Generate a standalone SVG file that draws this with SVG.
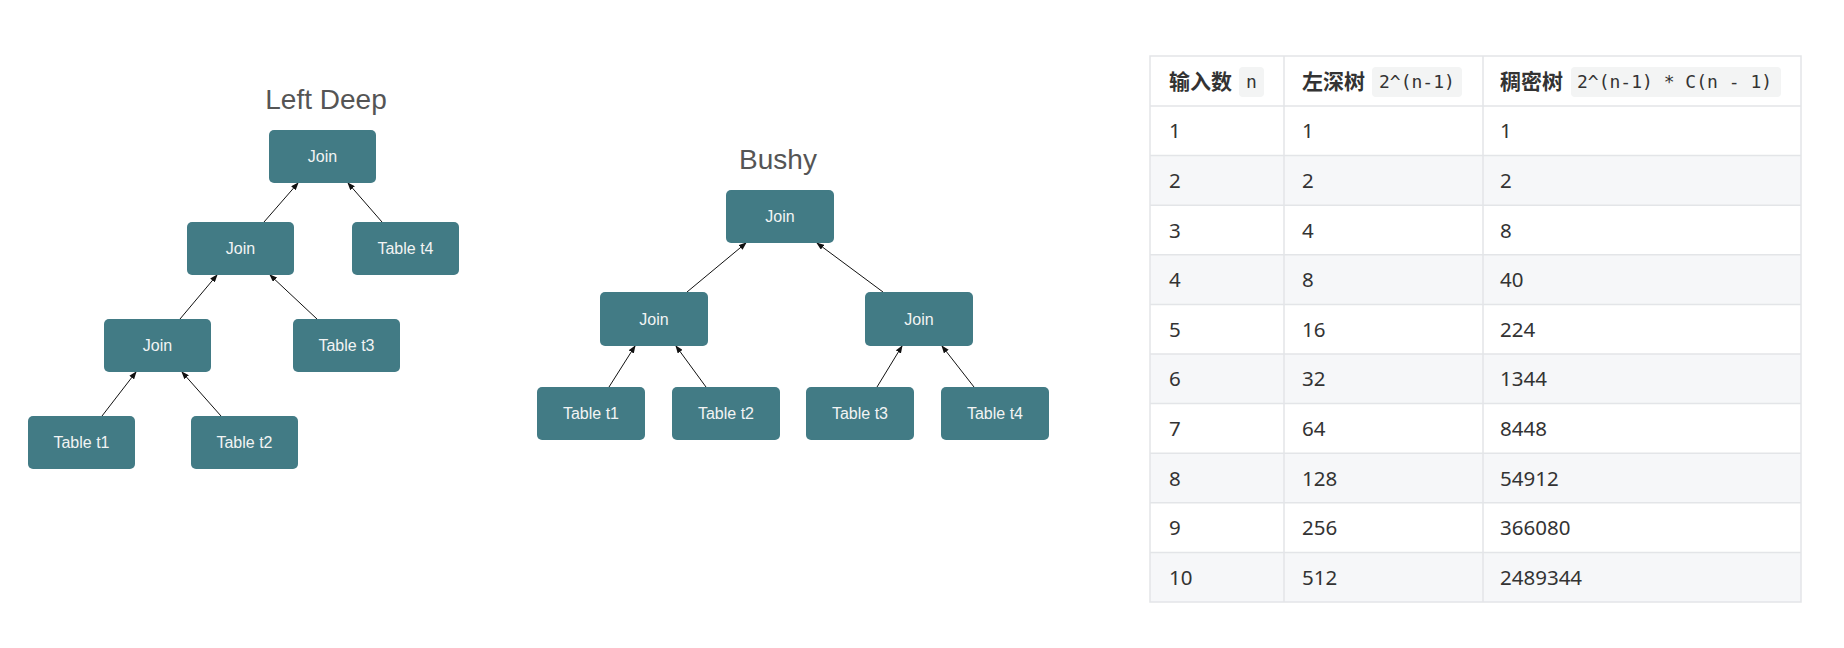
<svg xmlns="http://www.w3.org/2000/svg" width="1844" height="648" viewBox="0 0 1844 648">
<style>
.box{fill:#427b85;}
.bt{font-family:"Liberation Sans",Arial,sans-serif;font-size:16px;fill:#f2f4f4;text-anchor:middle;}
.title{font-family:"Liberation Sans",Arial,sans-serif;font-size:28px;fill:#555555;text-anchor:middle;}
.edge{stroke:#111;stroke-width:1;fill:none;marker-end:url(#ah);}
.cell{font-family:"Noto Sans","Noto Sans CJK SC",sans-serif;font-size:20.5px;fill:#333333;}
.hd{font-family:"Noto Sans","Noto Sans CJK SC",sans-serif;font-size:21px;font-weight:bold;fill:#333333;}
.code{font-family:"DejaVu Sans Mono","Liberation Mono",monospace;font-size:18px;fill:#333333;}
.chip{fill:#f3f4f4;}
.grid{stroke:#e3e5e8;stroke-width:1.5;fill:none;}
.alt{fill:#f6f7f9;}
</style>
<defs>
<marker id="ah" markerWidth="8" markerHeight="6" refX="7" refY="3" orient="auto" markerUnits="userSpaceOnUse">
<path d="M0,0 L8,3 L0,6 Z" fill="#111"/>
</marker>
</defs>
<rect width="1844" height="648" fill="#ffffff"/>

<text class="title" x="326" y="109">Left Deep</text>
<text class="title" x="778" y="169">Bushy</text>

<g id="connectors">
<line class="edge" x1="264" y1="222" x2="298" y2="183"/>
<line class="edge" x1="382" y1="222" x2="348" y2="183"/>
<line class="edge" x1="180" y1="319" x2="217" y2="275"/>
<line class="edge" x1="317" y1="319" x2="270" y2="275"/>
<line class="edge" x1="102" y1="416" x2="136" y2="372"/>
<line class="edge" x1="221" y1="416" x2="182" y2="372"/>
<line class="edge" x1="687" y1="292" x2="746" y2="243"/>
<line class="edge" x1="883" y1="292" x2="817" y2="243"/>
<line class="edge" x1="609" y1="387" x2="635" y2="346"/>
<line class="edge" x1="706" y1="387" x2="676" y2="346"/>
<line class="edge" x1="877" y1="387" x2="902" y2="346"/>
<line class="edge" x1="974" y1="387" x2="942" y2="346"/>
</g>

<g id="ld-join1"><rect class="box" x="269" y="130" width="107" height="53" rx="5"/><text class="bt" x="322.5" y="162">Join</text></g>
<g id="ld-join2"><rect class="box" x="187" y="222" width="107" height="53" rx="5"/><text class="bt" x="240.5" y="254">Join</text></g>
<g id="ld-t4"><rect class="box" x="352" y="222" width="107" height="53" rx="5"/><text class="bt" x="405.5" y="254">Table t4</text></g>
<g id="ld-join3"><rect class="box" x="104" y="319" width="107" height="53" rx="5"/><text class="bt" x="157.5" y="351">Join</text></g>
<g id="ld-t3"><rect class="box" x="293" y="319" width="107" height="53" rx="5"/><text class="bt" x="346.5" y="351">Table t3</text></g>
<g id="ld-t1"><rect class="box" x="28" y="416" width="107" height="53" rx="5"/><text class="bt" x="81.5" y="448">Table t1</text></g>
<g id="ld-t2"><rect class="box" x="191" y="416" width="107" height="53" rx="5"/><text class="bt" x="244.5" y="448">Table t2</text></g>

<g id="b-join-top"><rect class="box" x="726" y="190" width="108" height="53" rx="5"/><text class="bt" x="780" y="222">Join</text></g>
<g id="b-join-left"><rect class="box" x="600" y="292" width="108" height="54" rx="5"/><text class="bt" x="654" y="324.5">Join</text></g>
<g id="b-join-right"><rect class="box" x="865" y="292" width="108" height="54" rx="5"/><text class="bt" x="919" y="324.5">Join</text></g>
<g id="b-t1"><rect class="box" x="537" y="387" width="108" height="53" rx="5"/><text class="bt" x="591" y="419">Table t1</text></g>
<g id="b-t2"><rect class="box" x="672" y="387" width="108" height="53" rx="5"/><text class="bt" x="726" y="419">Table t2</text></g>
<g id="b-t3"><rect class="box" x="806" y="387" width="108" height="53" rx="5"/><text class="bt" x="860" y="419">Table t3</text></g>
<g id="b-t4"><rect class="box" x="941" y="387" width="108" height="53" rx="5"/><text class="bt" x="995" y="419">Table t4</text></g>

<g id="table">
<rect x="1150" y="155.6" width="651" height="49.6" class="alt"/>
<rect x="1150" y="254.8" width="651" height="49.6" class="alt"/>
<rect x="1150" y="354" width="651" height="49.6" class="alt"/>
<rect x="1150" y="453.2" width="651" height="49.6" class="alt"/>
<rect x="1150" y="552.4" width="651" height="49.6" class="alt"/>
<rect x="1150" y="56" width="651" height="546" class="grid"/>
<path class="grid" d="M1284,56V602 M1483,56V602 M1150,106H1801 M1150,155.6H1801 M1150,205.2H1801 M1150,254.8H1801 M1150,304.4H1801 M1150,354H1801 M1150,403.6H1801 M1150,453.2H1801 M1150,502.8H1801 M1150,552.4H1801"/>

<text class="hd" x="1169" y="89">输入数</text>
<rect class="chip" x="1239" y="67" width="25" height="30" rx="4"/>
<text class="code" x="1246" y="88">n</text>
<text class="hd" x="1302" y="89">左深树</text>
<rect class="chip" x="1372" y="67" width="90" height="30" rx="4"/>
<text class="code" x="1379" y="88">2^(n-1)</text>
<text class="hd" x="1500" y="89">稠密树</text>
<rect class="chip" x="1571" y="67" width="210" height="30" rx="4"/>
<text class="code" x="1577" y="88">2^(n-1) * C(n - 1)</text>

<text class="cell" x="1169" y="138.3">1</text><text class="cell" x="1302" y="138.3">1</text><text class="cell" x="1500" y="138.3">1</text>
<text class="cell" x="1169" y="187.9">2</text><text class="cell" x="1302" y="187.9">2</text><text class="cell" x="1500" y="187.9">2</text>
<text class="cell" x="1169" y="237.5">3</text><text class="cell" x="1302" y="237.5">4</text><text class="cell" x="1500" y="237.5">8</text>
<text class="cell" x="1169" y="287.1">4</text><text class="cell" x="1302" y="287.1">8</text><text class="cell" x="1500" y="287.1">40</text>
<text class="cell" x="1169" y="336.7">5</text><text class="cell" x="1302" y="336.7">16</text><text class="cell" x="1500" y="336.7">224</text>
<text class="cell" x="1169" y="386.3">6</text><text class="cell" x="1302" y="386.3">32</text><text class="cell" x="1500" y="386.3">1344</text>
<text class="cell" x="1169" y="435.9">7</text><text class="cell" x="1302" y="435.9">64</text><text class="cell" x="1500" y="435.9">8448</text>
<text class="cell" x="1169" y="485.5">8</text><text class="cell" x="1302" y="485.5">128</text><text class="cell" x="1500" y="485.5">54912</text>
<text class="cell" x="1169" y="535.1">9</text><text class="cell" x="1302" y="535.1">256</text><text class="cell" x="1500" y="535.1">366080</text>
<text class="cell" x="1169" y="584.7">10</text><text class="cell" x="1302" y="584.7">512</text><text class="cell" x="1500" y="584.7">2489344</text>
</g>
</svg>
